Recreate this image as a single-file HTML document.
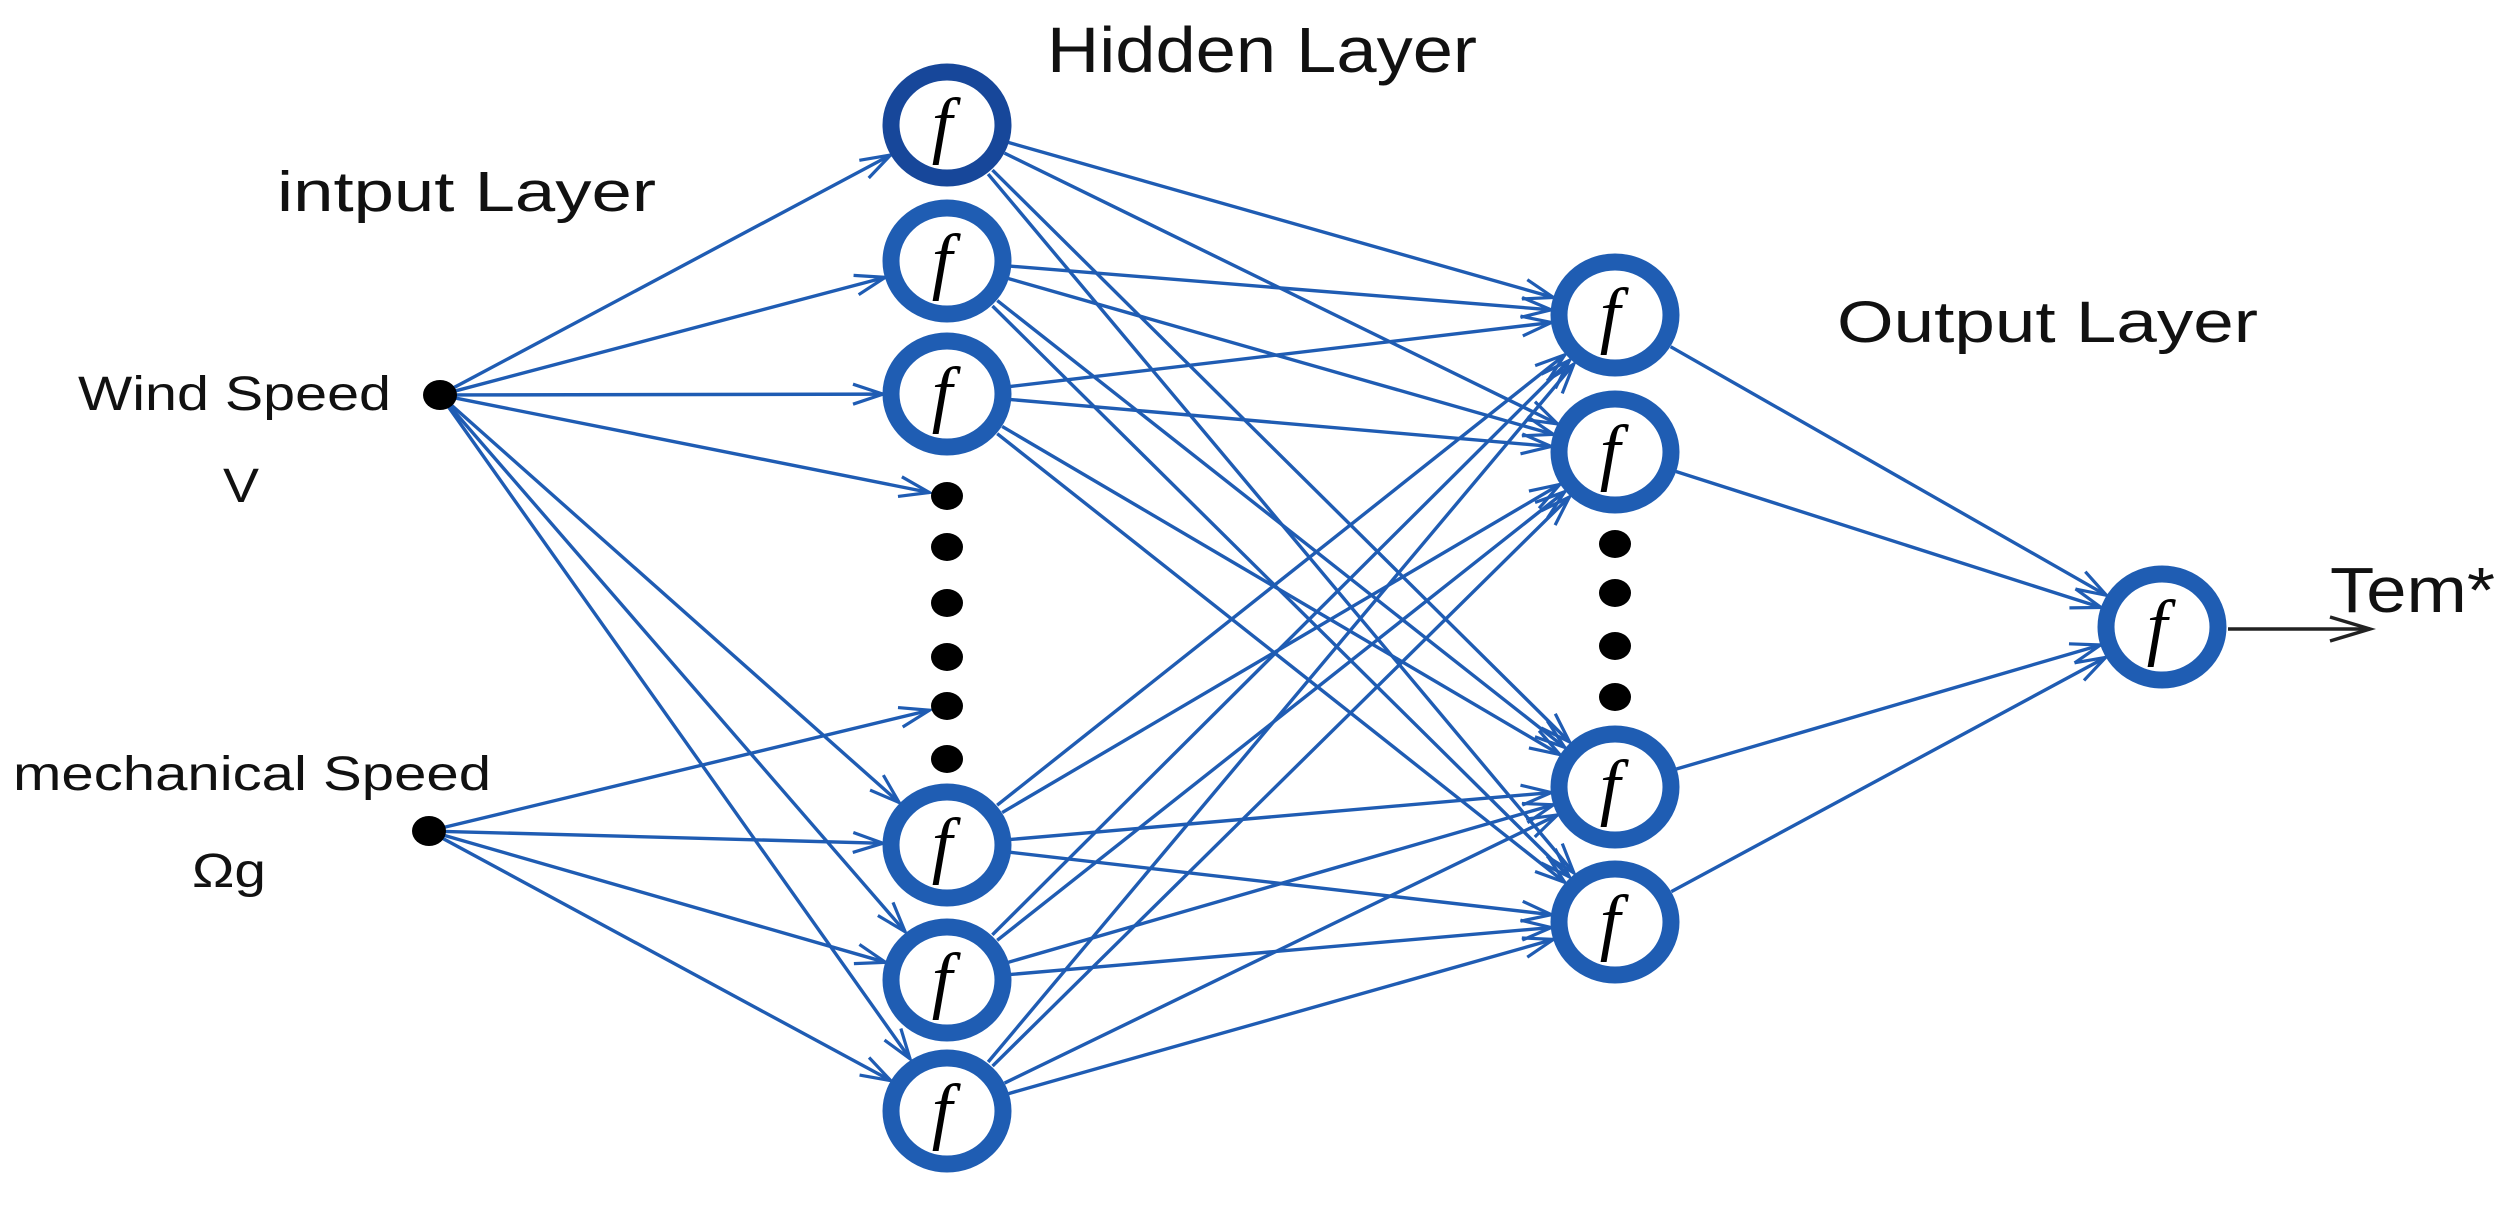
<!DOCTYPE html>
<html><head><meta charset="utf-8"><style>
html,body{margin:0;padding:0;background:#fff;}
svg{display:block;}
text{font-family:"Liberation Sans",Arial,sans-serif;fill:#111;}
.f{font-family:"Liberation Serif",serif;font-style:italic;fill:#000;}
</style></head><body>
<svg id="s" width="2513" height="1205" viewBox="0 0 2513 1205" xmlns="http://www.w3.org/2000/svg">
<defs>
<marker id="a" markerUnits="userSpaceOnUse" markerWidth="40" markerHeight="30" refX="34" refY="12" orient="auto">
<path d="M4,2 L34,12 L4,22" fill="none" stroke="#1f5cb3" stroke-width="3.2"/>
</marker>
<marker id="k" markerUnits="userSpaceOnUse" markerWidth="50" markerHeight="30" refX="44" refY="14" orient="auto">
<path d="M4,2 L44,14 L4,26" fill="none" stroke="#222" stroke-width="3.5"/>
</marker>
</defs>
<g id="lines"></g>
<g id="nodes"></g>
<text x="1047" y="72" font-size="64" textLength="430" lengthAdjust="spacingAndGlyphs">Hidden Layer</text>
<text x="277" y="211" font-size="57" textLength="379" lengthAdjust="spacingAndGlyphs">intput Layer</text>
<text x="1837" y="342" font-size="58" textLength="421" lengthAdjust="spacingAndGlyphs">Output Layer</text>
<text x="78" y="410" font-size="48" textLength="313" lengthAdjust="spacingAndGlyphs">Wind Speed</text>
<text x="223" y="502" font-size="48" textLength="36" lengthAdjust="spacingAndGlyphs">V</text>
<text x="13" y="790" font-size="48" textLength="478" lengthAdjust="spacingAndGlyphs">mechanical Speed</text>
<text x="192" y="887" font-size="48" textLength="74" lengthAdjust="spacingAndGlyphs">Ωg</text>
<text x="2330" y="612" font-size="64" textLength="165" lengthAdjust="spacingAndGlyphs">Tem*</text>
<line x1="2228" y1="629" x2="2370" y2="629" stroke="#222" stroke-width="3.5" marker-end="url(#k)"/>
</svg>
<script>
var NS="http://www.w3.org/2000/svg";
var L=document.getElementById("lines"),N=document.getElementById("nodes");
var R=60;
var hid=[[947,125],[947,261],[947,394],[947,845],[947,980],[947,1111]];
var out=[[1615,315],[1615,452],[1615,787],[1615,922]];
var fin=[2162,627];
var wind=[440,395],mech=[429,831];
var hd=[496,547,603,657,706,759], od=[544,593,646,697];
function ln(a,b,rs,re,mk){
 var dx=b[0]-a[0],dy=b[1]-a[1],d=Math.sqrt(dx*dx+dy*dy),ux=dx/d,uy=dy/d;
 var l=document.createElementNS(NS,"line");
 l.setAttribute("x1",a[0]+ux*rs);l.setAttribute("y1",a[1]+uy*rs);
 l.setAttribute("x2",b[0]-ux*re);l.setAttribute("y2",b[1]-uy*re);
 l.setAttribute("stroke","#1f5cb3");l.setAttribute("stroke-width","3.4");
 if(mk)l.setAttribute("marker-end","url(#a)");
 L.appendChild(l);
}
hid.forEach(function(h){ln(wind,h,10,R+4,1);});
ln(wind,[947,hd[0]],10,18,1);
ln(mech,[947,hd[4]],10,18,1);
[hid[3],hid[4],hid[5]].forEach(function(h){ln(mech,h,10,R+4,1);});
hid.forEach(function(h){out.forEach(function(o){ln(h,o,R+4,R+4,1);});});
out.forEach(function(o){ln(o,fin,R+4,R+4,1);});
function node(c,dark){
 var e=document.createElementNS(NS,"ellipse");
 e.setAttribute("cx",c[0]);e.setAttribute("cy",c[1]);e.setAttribute("rx",56);e.setAttribute("ry",53);
 e.setAttribute("fill","#fff");e.setAttribute("stroke",dark?"#17479a":"#1f5db3");e.setAttribute("stroke-width","17");
 N.appendChild(e);
 var t=document.createElementNS(NS,"text");
 t.setAttribute("x",c[0]-5);t.setAttribute("y",c[1]+24);t.setAttribute("font-size","74");
 t.setAttribute("text-anchor","middle");t.setAttribute("class","f");t.textContent="f";
 N.appendChild(t);
}
function dot(x,y,rx,ry){
 var e=document.createElementNS(NS,"ellipse");
 e.setAttribute("cx",x);e.setAttribute("cy",y);e.setAttribute("rx",rx);e.setAttribute("ry",ry);
 e.setAttribute("fill","#000");N.appendChild(e);
}
hid.forEach(function(h,i){node(h,i==0);});
out.forEach(function(o){node(o);});
node(fin);
hd.forEach(function(y){dot(947,y,16,14);});
od.forEach(function(y){dot(1615,y,16,14);});
dot(wind[0],wind[1],17,15);dot(mech[0],mech[1],17,15);
</script>
</body></html>
